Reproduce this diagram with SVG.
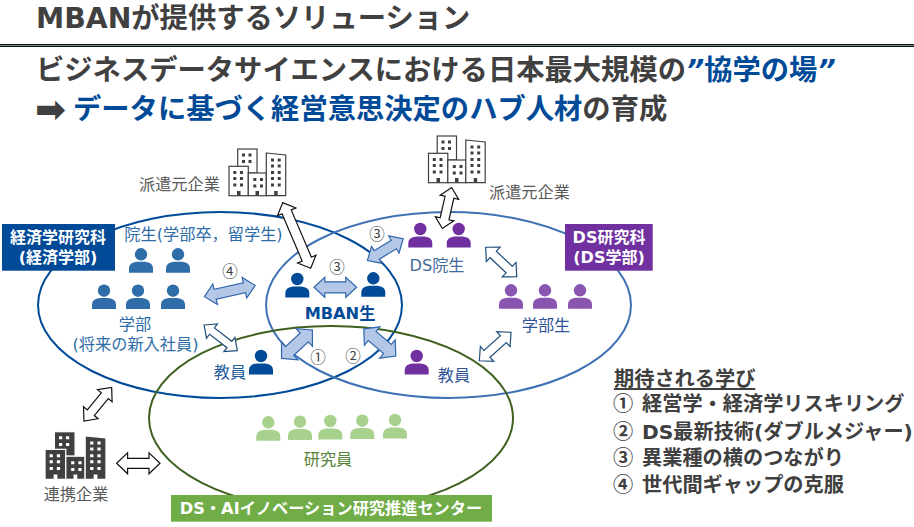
<svg xmlns="http://www.w3.org/2000/svg" width="914" height="527" viewBox="0 0 914 527">
<style>
text{font-family:"DejaVu Sans","Noto Sans CJK JP",sans-serif}
.b{font-weight:700}
.h1{font-size:28.3px;font-weight:700;fill:#404040}
.blue{fill:#004a98}
.lb{font-size:16.2px}
.mid{text-anchor:middle}
.grey{fill:#595959}
.w{fill:#fff;font-weight:700;font-size:16px;text-anchor:middle}
.li{font-size:20.2px;font-weight:700;fill:#404040}
text.cn{font-family:"Noto Sans CJK JP",sans-serif}
.num{font-size:15.500px;fill:#404040;text-anchor:middle}
.ell{fill:none;stroke-width:2}
.pd{fill:#004a98}.pm{fill:#2e6da8}.pp{fill:#7030a0}.pl{fill:#8a55b0}.pg{fill:#a9d18e}
.aw{fill:#fff;stroke:#111;stroke-width:1.2}
.awb{fill:#fff;stroke:#1f4e79;stroke-width:1.2}
.af{fill:#b4c7e7;stroke:#2f66ac;stroke-width:1.2}
</style>
<defs>
<g id="person"><circle cx="0" cy="0" r="6.2"/><path d="M-12 18.4v-4.4q0-5.8 8-6.6h8q8 .8 8 6.6v4.4z"/></g>
<g id="blocks">
<rect x="8.7" y="0" width="19.3" height="24"/>
<rect x="0" y="17.3" width="19.3" height="29.4"/>
<rect x="19.3" y="24" width="18" height="22.7"/>
<path d="M37.3 4L56.7 6V46.7H37.3z"/>
</g>
<path id="win" d="M13 4.5h3v3h-3zM19.5 4.5h3v3h-3zM13 11h3v3h-3zM19.5 11h3v3h-3zM4.3 22h3v3h-3zM11 22h3v3h-3zM4.3 28h3v3h-3zM11 28h3v3h-3zM4.3 34.500h3v3h-3zM11 34.500h3v3h-3zM24.300 29h3v3h-3zM31 29h3v3h-3zM24.300 35.500h3v3h-3zM31 35.500h3v3h-3zM42 9.500h3v3h-3zM48.700 9.500h3v3h-3zM42 15.500h3v3h-3zM48.700 15.500h3v3h-3zM42 22h3v3h-3zM48.700 22h3v3h-3zM42 28h3v3h-3zM48.700 28h3v3h-3zM42 34.500h3v3h-3zM48.700 34.500h3v3h-3zM8 42h3.500v4.700h-3.500zM26.500 42h3.500v4.700h-3.500zM45.200 42h3.500v4.700h-3.500z"/>
<g id="bldgO"><g fill="#fff" stroke="#404040" stroke-width="1.200"><use href="#blocks"/></g><use href="#win" fill="#404040"/></g>
<g id="bldgS"><g fill="#404040" stroke="#fff" stroke-width="1.200"><use href="#blocks"/></g><use href="#win" fill="#fff"/></g>
</defs>
<rect width="914" height="527" fill="#fff"/>

<g id="header">
<text x="36" y="28" class="b" font-size="28.300" fill="#404040">MBANが提供するソリューション</text>
<rect x="0" y="44" width="914" height="1" fill="#111"/>
<rect x="0" y="45" width="914" height="1" fill="#6f8f7f"/>
<rect x="0" y="46" width="914" height="1" fill="#111"/>
<text x="36" y="80" class="h1">ビジネスデータサイエンスにおける日本最大規模の<tspan class="blue" font-style="italic">”</tspan><tspan class="blue">協学の場</tspan><tspan class="blue" font-style="italic">”</tspan></text>
<text x="35" y="122" class="h1" style="font-size:37px">➡</text>
<text x="73" y="119" class="h1"><tspan class="blue">データに基づく経営意思決定のハブ人材</tspan>の育成</text>
</g>

<g id="ellipses">
<ellipse id="e-econ" class="ell" cx="220" cy="305" rx="182" ry="93" stroke="#004a98"/>
<ellipse id="e-ds" class="ell" cx="448.500" cy="305" rx="182.500" ry="93" stroke="#3f72b5"/>
<ellipse id="e-center" class="ell" cx="331" cy="418" rx="182" ry="92" stroke="#3f6120"/>
</g>

<g id="connectors">
<polygon class="aw" transform="translate(296.700 235.500) rotate(66.900)" points="-35.700,0 -25.700,-10 -25.700,-5 25.700,-5 25.700,-10 35.700,0 25.700,10 25.700,5 -25.700,5 -25.700,10"/>
<polygon class="aw" transform="translate(447 208) rotate(102.800)" points="-21,0 -11,-9.500 -11,-4.500 11,-4.500 11,-9.500 21,0 11,9.500 11,4.500 -11,4.500 -11,9.500"/>
<polygon class="aw" transform="translate(97.800 404.200) rotate(129.400)" points="-21.800,0 -11,-9.500 -11,-4.500 11,-4.500 11,-9.500 21.800,0 11,9.500 11,4.500 -11,4.500 -11,9.500"/>
<polygon class="aw" transform="translate(138.300 463.300)" points="-21.700,0 -10.700,-10.500 -10.700,-5 10.700,-5 10.700,-10.500 21.700,0 10.700,10.500 10.700,5 -10.700,5 -10.700,10.500"/>
<polygon class="af" transform="translate(335.300 287.300)" points="-21.300,0 -10.500,-10 -10.500,-5.500 10.500,-5.500 10.500,-10 21.300,0 10.500,10 10.500,5.500 -10.500,5.500 -10.500,10"/>
<polygon class="af" transform="translate(385.300 249.700) rotate(-31.400)" points="-21,0 -10,-10 -10,-5 10,-5 10,-10 21,0 10,10 10,5 -10,5 -10,10"/>
<polygon class="af" transform="translate(229.800 291) rotate(-12.600)" points="-26,0 -15,-10.500 -15,-5 15,-5 15,-10.500 26,0 15,10.500 15,5 -15,5 -15,10.500"/>
<polygon class="af" transform="translate(297 344.200) rotate(-42.800)" points="-21,0 -10,-12 -10,-6 10,-6 10,-12 21,0 10,12 10,6 -10,6 -10,12"/>
<polygon class="af" transform="translate(379.800 342.500) rotate(40.300)" points="-21,0 -10,-12 -10,-6 10,-6 10,-12 21,0 10,12 10,6 -10,6 -10,12"/>
<polygon class="awb" transform="translate(220.700 337.800) rotate(37.600)" points="-21,0 -11,-9 -11,-4 11,-4 11,-9 21,0 11,9 11,4 -11,4 -11,9"/>
<polygon class="awb" transform="translate(501.200 262) rotate(43.500)" points="-21.400,0 -11,-10 -11,-4.500 11,-4.500 11,-10 21.400,0 11,10 11,4.500 -11,4.500 -11,10"/>
<polygon class="awb" transform="translate(495.200 346.500) rotate(-41.900)" points="-21.300,0 -11,-10 -11,-4.500 11,-4.500 11,-10 21.300,0 11,10 11,4.500 -11,4.500 -11,10"/>
<text class="num cn" x="230" y="277">④</text>
<text class="num cn" x="337" y="272.500">③</text>
<text class="num cn" x="377" y="239.500">③</text>
<text class="num cn" x="318" y="362.500">①</text>
<text class="num cn" x="353" y="361.500">②</text>
</g>

<g id="node-econ"><rect x="2" y="224" width="113" height="46.700" fill="#004a98"/><text x="58" y="243" class="w">経済学研究科</text><text x="58" y="263" class="w">(経済学部)</text></g>
<g id="node-ds"><rect x="565" y="224" width="87.700" height="46.700" fill="#7030a0"/><text x="609" y="243" class="w">DS研究科</text><text x="609" y="263" class="w">(DS学部)</text></g>
<g id="node-center"><rect x="171" y="495" width="321" height="26.700" fill="#70ad47"/><text x="331" y="514" class="w" style="font-size:16.200px">DS・AIイノベーション研究推進センター</text></g>

<g id="node-firm-left"><use href="#bldgO" x="229" y="149"/><text x="139" y="190" class="lb grey">派遣元企業</text></g>
<g id="node-firm-right"><use href="#bldgO" x="428.500" y="136"/><text x="489" y="198" class="lb grey">派遣元企業</text></g>
<g id="node-partner"><use href="#bldgS" transform="translate(45 431.700) scale(1.076 1.020)"/><text x="76" y="500" class="lb grey mid">連携企業</text></g>

<g id="node-grad" class="pm"><use href="#person" x="141" y="254.300"/><use href="#person" x="178" y="254.300"/><text x="203.500" y="240" class="lb mid" fill="#2e6da8">院生(学部卒，留学生)</text></g>
<g id="node-undergrad" class="pm"><use href="#person" x="104" y="290.700"/><use href="#person" x="138" y="290.700"/><use href="#person" x="173" y="290.700"/><text x="135" y="330" class="lb mid">学部</text><text x="135.500" y="350" class="lb mid">(将来の新入社員)</text></g>
<g id="node-mban" class="pd"><use href="#person" x="297.300" y="279"/><use href="#person" x="373.300" y="278.300"/><text x="340" y="319" class="lb b mid">MBAN生</text></g>
<g id="node-teacher-econ" class="pd"><use href="#person" x="261" y="356"/><text x="230" y="378" class="lb mid" fill="#1f5d9e">教員</text></g>
<g id="node-teacher-ds" class="pp"><use href="#person" x="416.700" y="356"/><text x="454" y="381" class="lb mid" style="fill:#2f5597">教員</text></g>
<g id="node-ds-grad" class="pp"><use href="#person" x="420.300" y="229"/><use href="#person" x="458.700" y="229"/><text x="437" y="271" class="lb mid" style="fill:#3f6a9b">DS院生</text></g>
<g id="node-ds-under" class="pl"><use href="#person" x="511" y="290.300"/><use href="#person" x="545" y="290.300"/><use href="#person" x="580" y="290.300"/><text x="546" y="331" class="lb mid" style="fill:#2f5597">学部生</text></g>
<g id="node-researcher" class="pg"><use href="#person" x="268.300" y="422.300"/><use href="#person" x="300" y="421.700"/><use href="#person" x="330.300" y="421"/><use href="#person" x="362.300" y="420.700"/><use href="#person" x="395" y="420"/><text x="328" y="465" class="lb mid" style="fill:#548235">研究員</text></g>

<g id="learning">
<text x="614" y="386" class="li" text-decoration="underline">期待される学び</text>
<text x="613" y="411" class="li cn">①</text><text x="642" y="411" class="li">経営学・経済学リスキリング</text>
<text x="613" y="438.500" class="li cn">②</text><text x="642" y="438.500" class="li">DS最新技術(ダブルメジャー)</text>
<text x="613" y="465" class="li cn">③</text><text x="642" y="465" class="li">異業種の横のつながり</text>
<text x="613" y="492" class="li cn">④</text><text x="642" y="492" class="li">世代間ギャップの克服</text>
</g>
</svg>
